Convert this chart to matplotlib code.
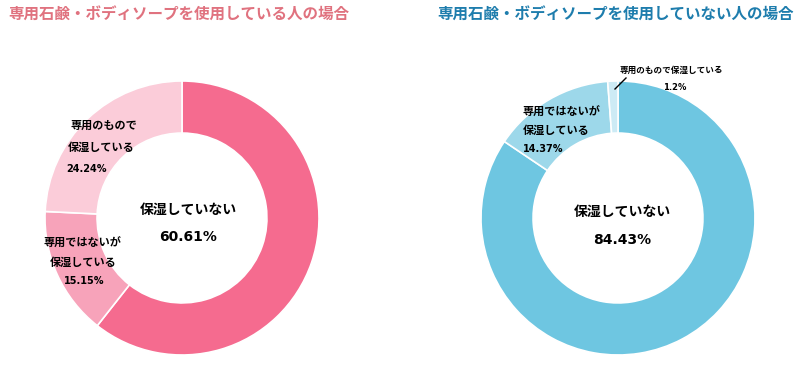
import matplotlib
matplotlib.use("Agg")
import matplotlib.pyplot as plt

plt.rcParams['font.family'] = ['Noto Sans CJK JP', 'DejaVu Sans']

# data
left_title = '専用石鹸・ボディソープを使用している人の場合'
right_title = '専用石鹸・ボディソープを使用していない人の場合'
left_values = [60.61, 15.15, 24.24]
right_values = [84.43, 14.37, 1.2]
left_colors = ['#F56B8F', '#F7A3BA', '#FBCCD9']
right_colors = ['#6EC6E1', '#9DD8EA', '#CDEBF5']
center_label = '保湿していない'

W, H = 804, 373
NUM_FONT = ['DejaVu Sans', 'Noto Sans CJK JP']


def fx(x):
    return x / W


def fy(y):
    return 1 - y / H


def donut(fig, cx, cy, r, values, colors):
    ax = fig.add_axes([fx(cx - r), fy(cy + r), 2 * r / W, 2 * r / H])
    ax.pie(values, colors=colors, startangle=90, counterclock=False,
           radius=1.0, wedgeprops=dict(width=0.38, edgecolor='white', linewidth=1.2))
    ax.set_xlim(-1, 1)
    ax.set_ylim(-1, 1)
    ax.set_aspect('equal')
    ax.axis('off')
    return ax


fig = plt.figure(figsize=(W / 100, H / 100), dpi=100)

donut(fig, 182, 218, 137, left_values, left_colors)
donut(fig, 618, 218, 137, right_values, right_colors)

# titles
fig.text(fx(8), fy(15), left_title, color='#E0727F', fontsize=11.2,
         fontweight='bold', ha='left', va='center')
fig.text(fx(437), fy(15), right_title, color='#1E7DAD', fontsize=11.2,
         fontweight='bold', ha='left', va='center')

# center labels
fig.text(fx(188), fy(210), center_label, fontsize=10, fontweight='bold', ha='center', va='center')
fig.text(fx(188), fy(237), '%.2f%%' % left_values[0], fontsize=10, fontweight='bold',
         ha='center', va='center', family=NUM_FONT)
fig.text(fx(622), fy(212), center_label, fontsize=10, fontweight='bold', ha='center', va='center')
fig.text(fx(622), fy(240), '%.2f%%' % right_values[0], fontsize=10, fontweight='bold',
         ha='center', va='center', family=NUM_FONT)

# left segment labels
small = dict(fontsize=8, fontweight='bold', ha='center', va='center')
fig.text(fx(104), fy(125), '専用のもので', **small)
fig.text(fx(101), fy(147), '保湿している', **small)
fig.text(fx(87), fy(169), '%.2f%%' % left_values[2], fontsize=7, fontweight='bold',
         ha='center', va='center', family=NUM_FONT)
fig.text(fx(82), fy(243), '専用ではないが', **small)
fig.text(fx(83), fy(262), '保湿している', **small)
fig.text(fx(84), fy(281), '%.2f%%' % left_values[1], fontsize=7, fontweight='bold',
         ha='center', va='center', family=NUM_FONT)

# right segment labels
fig.text(fx(523), fy(112), '専用ではないが', fontsize=8, fontweight='bold', ha='left', va='center')
fig.text(fx(523), fy(130), '保湿している', fontsize=8, fontweight='bold', ha='left', va='center')
fig.text(fx(523), fy(149), '%.2f%%' % right_values[1], fontsize=7, fontweight='bold',
         ha='left', va='center', family=NUM_FONT)
fig.text(fx(671), fy(70), '専用のもので保湿している', fontsize=6.2, fontweight='bold',
         ha='center', va='center')
fig.text(fx(675), fy(87), '%.1f%%' % right_values[2], fontsize=6, fontweight='bold',
         ha='center', va='center', family=NUM_FONT)
fig.add_artist(plt.Line2D([fx(615), fx(626)], [fy(89), fy(78)], color='black', lw=1))

fig.savefig('out.png', dpi=100)
